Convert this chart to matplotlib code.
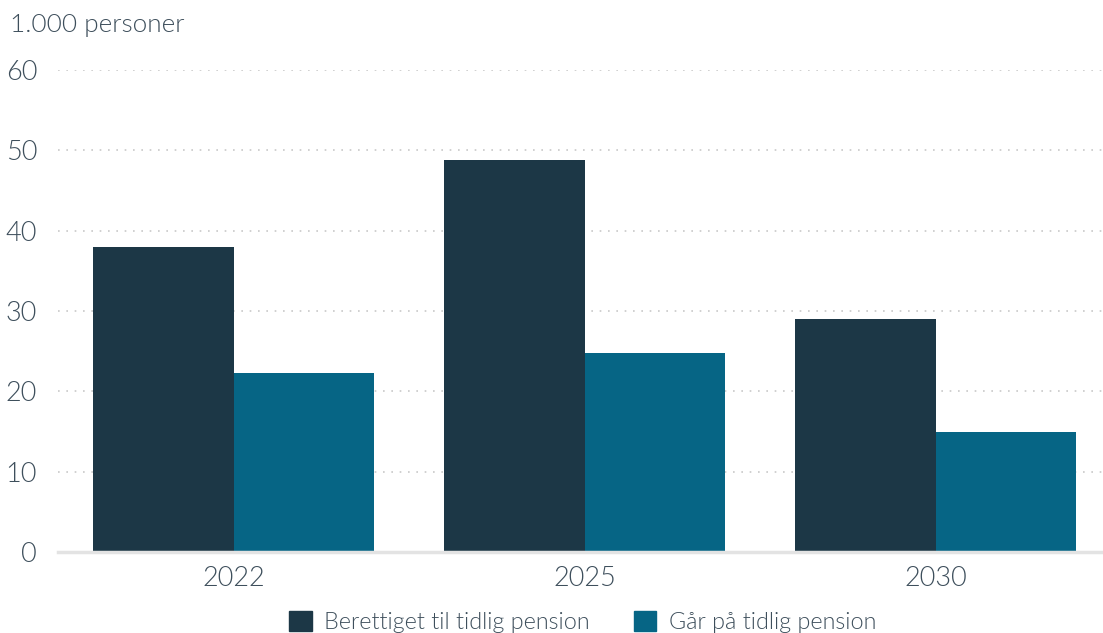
import matplotlib
matplotlib.use("Agg")
import matplotlib.pyplot as plt
import numpy as np
from matplotlib.patches import Patch

categories = ["2022", "2025", "2030"]
berettiget = [38.0, 48.8, 29.0]
gaar = [22.3, 24.8, 14.9]
series_names = ["Berettiget til tidlig pension", "Går på tidlig pension"]
yticks = [0, 10, 20, 30, 40, 50, 60]
ylabel = "1.000 personer"

dark = "#1C3746"
teal = "#066585"
txt = "#3E4F5C"
FW = 300

plt.rcParams['font.family'] = ['Lato', 'DejaVu Sans']

W, H = 1103, 633
fig = plt.figure(figsize=(W / 100, H / 100), dpi=100)
ax = fig.add_axes([58 / W, (H - 552) / H, (1103 - 58) / W, (552 - 70) / H])

x = np.arange(len(categories))
bw = 0.4
ax.bar(x - bw / 2, berettiget, width=bw, color=dark, zorder=3)
ax.bar(x + bw / 2, gaar, width=bw, color=teal, zorder=3)

ax.set_xlim(-0.5, 2.5 - 8.5 / 351)
ax.set_ylim(0, 60)
ax.set_yticks(yticks)
ax.set_yticklabels([str(v) for v in yticks])
ax.set_xticks(x)
ax.set_xticklabels(categories)

for v in yticks[1:]:
    ax.axhline(v, color="#c8c8c8", lw=1.2, ls=(0, (1, 4)), zorder=1)

for s in ["top", "right", "left"]:
    ax.spines[s].set_visible(False)
ax.spines["bottom"].set_color("#e3e3e3")
ax.spines["bottom"].set_linewidth(2.5)
ax.spines["bottom"].set_zorder(4)

ax.tick_params(axis="both", length=0, colors=txt, labelsize=19.5)
ax.tick_params(axis="y", pad=15)
ax.tick_params(axis="x", pad=10)
for lab in ax.get_xticklabels() + ax.get_yticklabels():
    lab.set_fontweight(FW)

fig.text(10 / W, 1 - 25 / H, ylabel, fontsize=18.8, color=txt, va="center",
         ha="left", fontweight=FW)

handles = [Patch(color=dark), Patch(color=teal)]
leg = fig.legend(handles, series_names, loc="center", bbox_to_anchor=(583 / W, 1 - 622 / H),
                 ncol=2, frameon=False, fontsize=16.8, handlelength=0.95, handleheight=0.95,
                 handletextpad=0.55, columnspacing=1.9, borderpad=0, borderaxespad=0)
for t in leg.get_texts():
    t.set_color(txt)
    t.set_fontweight(FW)

fig.savefig("out.png", dpi=100)
